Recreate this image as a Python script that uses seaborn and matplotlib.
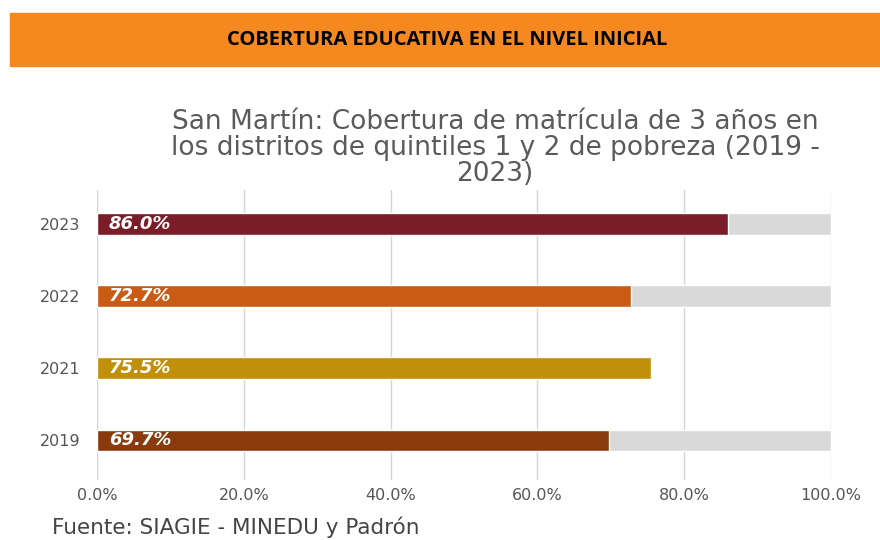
import matplotlib
matplotlib.use("Agg")
import pandas as pd
import matplotlib.pyplot as plt
import seaborn as sns
from matplotlib.patches import Rectangle
from matplotlib.ticker import PercentFormatter

# data
years = ["2023", "2022", "2021", "2019"]
coverage = [86.0, 72.7, 75.5, 69.7]
background = [100.0, 100.0, 0.0, 100.0]  # 2021 has no grey track
bar_colors = ["#7B1D28", "#C95B14", "#C0900B", "#893B0E"]
x_ticks = [0, 20, 40, 60, 80, 100]

banner_text = "COBERTURA EDUCATIVA EN EL NIVEL INICIAL"
chart_title = ("San Martín: Cobertura de matrícula de 3 años en\n"
               "los distritos de quintiles 1 y 2 de pobreza (2019 -\n2023)")
source_text = "Fuente: SIAGIE - MINEDU y Padrón"

df = pd.DataFrame({"year": years, "coverage": coverage, "background": background})

sns.set_theme(style="white")
plt.rcParams["font.family"] = ["DejaVu Sans"]

fig = plt.figure(figsize=(8.8, 5.4), dpi=100)

# orange banner
fig.patches.append(Rectangle((10 / 880, 1 - 66 / 540), 870 / 880, 53 / 540,
                             transform=fig.transFigure, color="#F5891F", zorder=0))
fig.text(447 / 880, 1 - 40 / 540, banner_text, ha="center", va="center",
         fontsize=14.5, fontweight="bold", color="black", family=["Open Sans", "DejaVu Sans"])

fig.text(495 / 880, 1 - 148 / 540, chart_title, ha="center", va="center",
         fontsize=19, color="#5A5A5A", linespacing=1.0)

ax = fig.add_axes([97 / 880, 1 - 480 / 540, 734 / 880, 290 / 540])

sns.barplot(data=df, x="background", y="year", color="#D9D9D9", width=0.3,
            ax=ax, zorder=2, saturation=1)
sns.barplot(data=df, x="coverage", y="year", hue="year", palette=bar_colors,
            width=0.3, ax=ax, zorder=3, saturation=1, legend=False)

for i, v in enumerate(coverage):
    ax.text(1.6, i, f"{v:.1f}%", va="center", ha="left", color="white",
            fontsize=13, fontweight="bold", fontstyle="italic", zorder=4)

ax.set_xlim(0, 100)
ax.set_ylim(3.55, -0.47)
ax.set_xticks(x_ticks)
ax.xaxis.set_major_formatter(PercentFormatter(decimals=1))
ax.grid(axis="x", color="#D4D4D4", linewidth=1, zorder=0)
ax.set_axisbelow(True)
for s in ax.spines.values():
    s.set_visible(False)
ax.set_xlabel("")
ax.set_ylabel("")
ax.tick_params(axis="both", length=0, labelsize=11.5, colors="#555555")
ax.tick_params(axis="x", pad=6)
ax.tick_params(axis="y", pad=12)

fig.text(52 / 880, 1 - 527 / 540, source_text, ha="left", va="center",
         fontsize=15.5, color="#444444")

fig.savefig("out.png", dpi=100)
